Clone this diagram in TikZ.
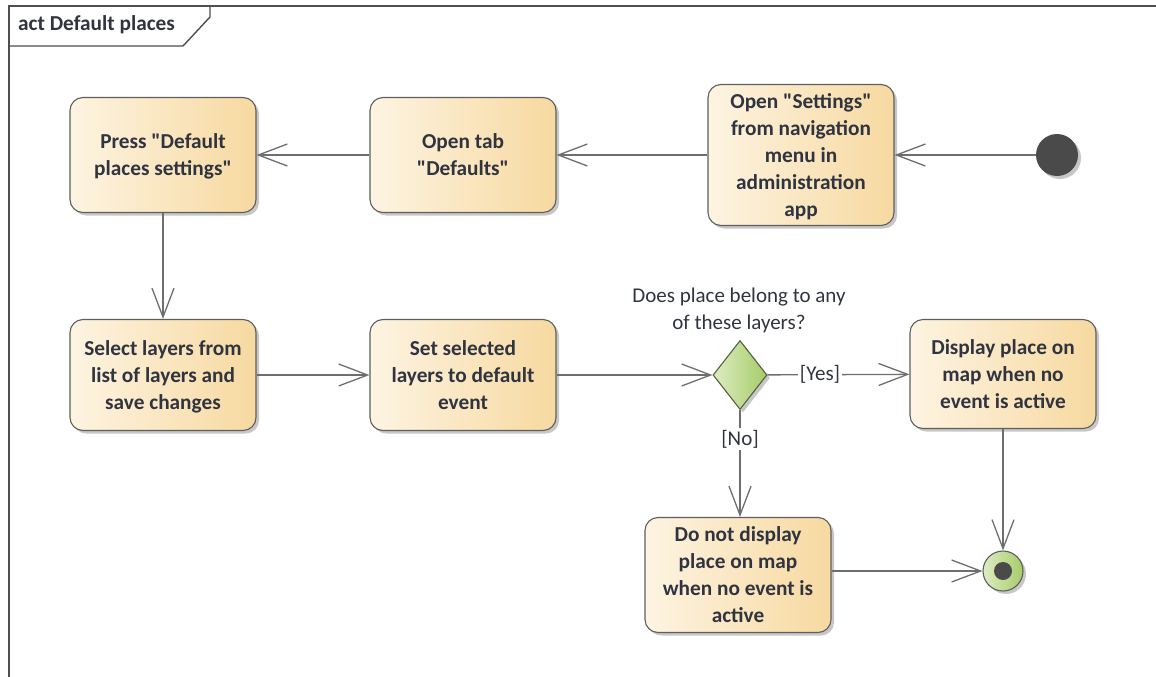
\documentclass[tikz,border=0pt]{standalone}
\usepackage{fontspec}
\setmainfont{Carlito}[Ligatures=TeXOff]
\usetikzlibrary{arrows.meta,shapes.geometric,shadows}
\definecolor{actL}{HTML}{FDF4E2}
\definecolor{actR}{HTML}{F7D9A0}
\definecolor{actD}{HTML}{5E5E5E}
\definecolor{lineC}{HTML}{6E6E6E}
\definecolor{txt}{HTML}{2F3440}
\definecolor{decL}{HTML}{DDECC3}
\definecolor{decR}{HTML}{A6CC68}
\definecolor{decD}{HTML}{55623F}
\definecolor{startC}{HTML}{4A4A4A}
\definecolor{frameC}{HTML}{4F4F4F}
\begin{document}
\begin{tikzpicture}[x=1pt,y=-1pt,
  shad/.style={drop shadow={shadow xshift=3pt,shadow yshift=-3pt,opacity=0.22,fill=black}},
  act/.style={draw=actD, line width=1.1pt, rounded corners=13pt, left color=actL, right color=actR,
    align=center, font=\fontsize{21.3}{27}\selectfont\bfseries, text=txt, minimum width=186pt, inner sep=0pt,
    text depth=0pt, shad},
  decision/.style={diamond, draw=decD, line width=1.1pt, left color=decL, right color=decR,
    minimum width=54pt, minimum height=69pt, inner sep=0pt, shad},
  initial/.style={circle, fill=startC, minimum size=42pt, inner sep=0pt, shad},
  final/.style={circle, draw=actD, line width=1.1pt, left color=decL, right color=decR, minimum size=40pt, inner sep=0pt, shad},
  flow/.style={draw=lineC, line width=1.3pt, -{Straight Barb[length=29pt,width=22pt]}},
  lbl/.style={font=\fontsize{21}{27}\selectfont, text=txt},
  frame/.style={draw=frameC, line width=1.4pt}
]
\useasboundingbox (0,0) rectangle (1156,677);
\draw[frame] (9,677) -- (9,6) -- (1156,6);
\draw[frame] (9,46) -- (183,46) -- (210,17) -- (210,6);
\node[anchor=west, font=\fontsize{21.3}{24}\selectfont\bfseries, text=txt, inner sep=0pt] (title) at (18,25) {act Default places};

\node[act, minimum height=115pt] (press) at (163,155) {Press "Default\\places settings"};
\node[act, minimum height=115pt] (tab) at (463,155) {Open tab\\"Defaults"};
\node[act, minimum height=141pt] (settings) at (801,155) {Open "Settings"\\from navigation\\menu in\\administration\\app};
\node[initial] (start) at (1057,155) {};

\node[act, minimum height=111pt] (select) at (163,375) {Select layers from\\list of layers and\\save changes};
\node[act, minimum height=111pt] (setsel) at (463,375) {Set selected\\layers to default\\event};
\node[decision] (dec) at (740,375) {};
\node[lbl, align=center] (q) at (739,310) {Does place belong to any\\of these layers?};
\node[act, minimum height=109pt] (show) at (1003,374) {Display place on\\map when no\\event is active};
\node[act, minimum height=115pt] (hide) at (738,575) {Do not display\\place on map\\when no event is\\active};
\node[final] (end) at (1003,571) {};
\fill[startC] (end.center) circle (9);

\draw[flow] (start) -- (settings);
\draw[flow] (settings) -- (tab);
\draw[flow] (tab) -- (press);
\draw[flow] (press) -- (select);
\draw[flow] (select) -- (setsel);
\draw[flow] (setsel) -- (dec);
\draw[flow] (dec) -- node[lbl, pos=0.37, fill=white, inner sep=2pt] (yes) {[Yes]} (show);
\draw[flow] (dec) -- node[lbl, pos=0.27, fill=white, inner sep=2pt] (no) {[No]} (dec |- hide.north);
\draw[flow] (show) -- (end);
\draw[flow] (hide.east |- end) -- (end);
\end{tikzpicture}
\end{document}
